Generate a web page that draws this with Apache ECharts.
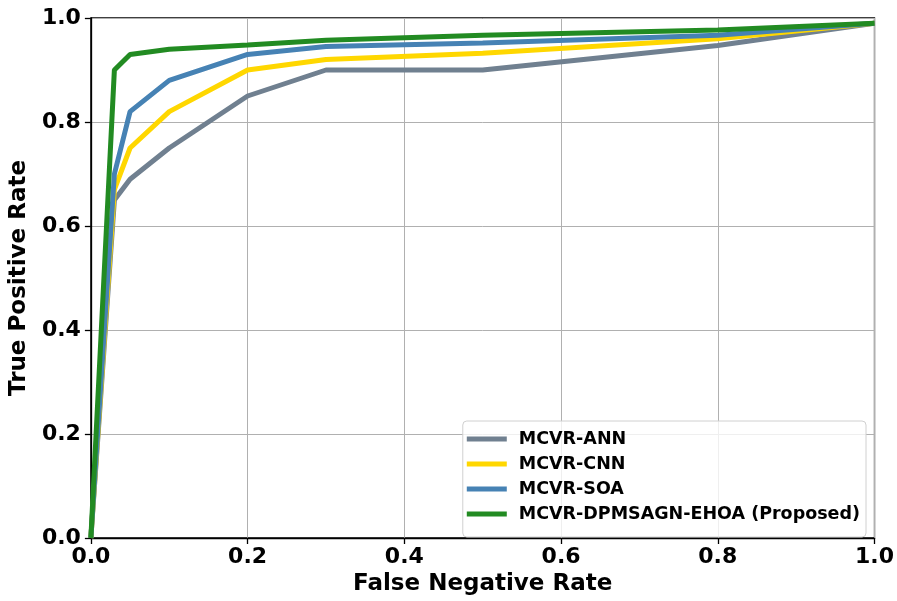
<!DOCTYPE html>
<html><head><meta charset="utf-8">
<script src="https://cdn.jsdelivr.net/npm/echarts@6/dist/echarts.min.js"></script>
<style>html,body{margin:0;padding:0;background:#fff}#c{width:897px;height:601px}</style>
</head><body><div id="c"></div>
<script>
var seriesNames = ['MCVR-ANN', 'MCVR-CNN', 'MCVR-SOA', 'MCVR-DPMSAGN-EHOA (Proposed)'];
var colors = ['#708090', '#FFD700', '#4682B4', '#228B22'];
var fnr = [0, 0.03, 0.05, 0.1, 0.2, 0.3, 0.5, 0.8, 1.0];
var tprANN = [0, 0.65, 0.69, 0.75, 0.85, 0.90, 0.90, 0.947, 0.99];
var tprCNN = [0, 0.67, 0.75, 0.82, 0.90, 0.92, 0.932, 0.96, 0.99];
var tprSOA = [0, 0.70, 0.82, 0.88, 0.93, 0.945, 0.952, 0.967, 0.99];
var tprProp = [0, 0.90, 0.93, 0.94, 0.948, 0.957, 0.967, 0.977, 0.99];
var allTpr = [tprANN, tprCNN, tprSOA, tprProp];

var font = 'DejaVu Sans';
var chart = echarts.init(document.getElementById('c'), null, {renderer: 'canvas'});
var series = allTpr.map(function (arr, i) {
  return {
    name: seriesNames[i], type: 'line', symbol: 'none', animation: false,
    data: fnr.map(function (x, j) { return [x, arr[j]]; }),
    lineStyle: {width: 5, color: colors[i]}, itemStyle: {color: colors[i]}
  };
});
function axisCommon(name, gap, margin) {
  return {
    type: 'value', min: 0, max: 1, interval: 0.2,
    name: name, nameLocation: 'middle', nameGap: gap,
    nameTextStyle: {fontFamily: font, fontWeight: 'bold', fontSize: 23, color: '#000'},
    axisLine: {show: true, lineStyle: {color: '#000', width: 1.3}},
    axisTick: {show: true, length: 6, lineStyle: {color: '#000', width: 1.3}},
    axisLabel: {fontFamily: font, fontWeight: 'bold', fontSize: 22, color: '#000', margin: margin,
      formatter: function (v) { return v.toFixed(1); }},
    splitLine: {show: true, lineStyle: {color: '#b0b0b0', width: 1}}
  };
}
var xAxis = axisCommon('False Negative Rate', 35, 8);
var yAxis = axisCommon('True Positive Rate', 58, 10);
chart.setOption({
  backgroundColor: '#fff',
  grid: {left: 90, right: 21, top: 18, bottom: 63, show: true, borderColor: '#000', borderWidth: 1.3},
  xAxis: xAxis,
  yAxis: yAxis,
  legend: {
    orient: 'vertical', right: 31, bottom: 64,
    data: seriesNames,
    icon: 'rect', itemWidth: 40, itemHeight: 5, itemGap: 7,
    padding: [9, 6, 14, 4],
    backgroundColor: 'rgba(255,255,255,0.8)',
    borderColor: '#d0d0d0', borderWidth: 1, borderRadius: 4,
    textStyle: {fontFamily: font, fontWeight: 'bold', fontSize: 17.5, color: '#000', padding: [0, 0, 0, 7]}
  },
  series: series
});
</script></body></html>
